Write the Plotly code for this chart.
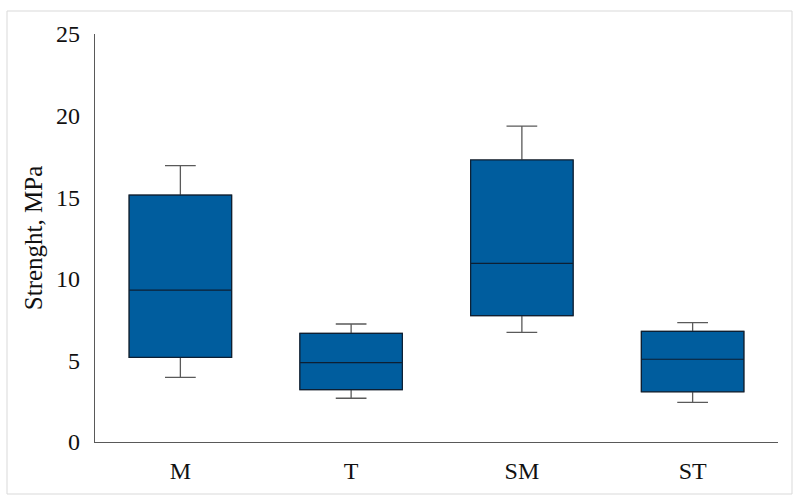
import plotly.graph_objects as go

categories = ["M", "T", "SM", "ST"]
lower_whisker = [3.96, 2.68, 6.72, 2.43]
q1_values = [5.19, 3.21, 7.74, 3.08]
median_values = [9.30, 4.86, 10.95, 5.07]
q3_values = [15.13, 6.66, 17.28, 6.78]
upper_whisker = [16.93, 7.23, 19.36, 7.31]

y_ticks = [0, 5, 10, 15, 20, 25]

FONT = "Liberation Serif"

fig = go.Figure()
# whiskers (gray)
fig.add_trace(go.Box(
    x=categories, q1=q1_values, median=median_values, q3=q3_values,
    lowerfence=lower_whisker, upperfence=upper_whisker,
    fillcolor="#005D9E", line=dict(color="#5a5a5a", width=1.3),
    whiskerwidth=0.3, width=0.6, boxpoints=False, showlegend=False,
    hoverinfo="skip",
))
# box body (dark outline)
fig.add_trace(go.Box(
    x=categories, q1=q1_values, median=median_values, q3=q3_values,
    lowerfence=q1_values, upperfence=q3_values,
    fillcolor="#005D9E", line=dict(color="#0d1f33", width=1.2),
    whiskerwidth=0, width=0.6, boxpoints=False, showlegend=False,
))

L, R, T, B = 95, 22, 34, 61
W, H = 800, 503
pw, ph = W - L - R, H - T - B

fig.update_layout(
    width=W, height=H,
    margin=dict(l=L, r=R, t=T, b=B),
    paper_bgcolor="white", plot_bgcolor="white",
    boxmode="overlay",
    font=dict(family=FONT, size=24, color="#111111"),
    xaxis=dict(
        showline=True, linecolor="#595959", linewidth=1.3,
        showgrid=False, zeroline=False, ticks="",
        tickfont=dict(family=FONT, size=24, color="#111111"),
        ticklabelstandoff=7,
    ),
    yaxis=dict(
        range=[0, 25], tickvals=y_ticks,
        showline=True, linecolor="#595959", linewidth=1.3,
        showgrid=False, zeroline=False, ticks="",
        tickfont=dict(family=FONT, size=24, color="#111111"),
        ticklabelstandoff=9,
        title=dict(text="Strenght, MPa", font=dict(family=FONT, size=25, color="#111111"), standoff=6),
    ),
    shapes=[dict(
        type="rect", xref="paper", yref="paper",
        x0=(7 - L) / pw, x1=(792 - L) / pw,
        y0=(H - B - 494) / ph, y1=(H - B - 11) / ph,
        line=dict(color="#d9d9d9", width=1), fillcolor="rgba(0,0,0,0)",
        layer="below",
    )],
)

fig.write_html("out.html")
